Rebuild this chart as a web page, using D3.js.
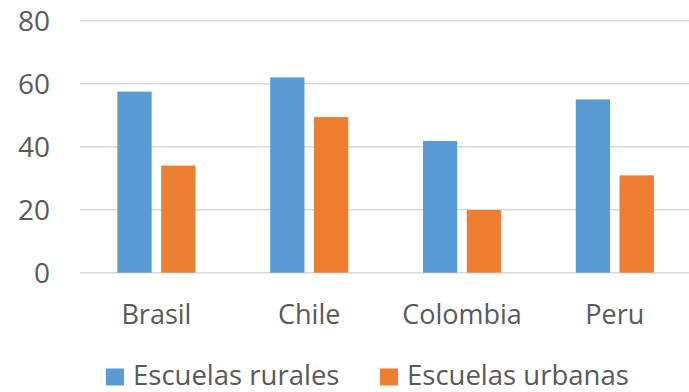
<!DOCTYPE html>
<html>
<head>
<meta charset="utf-8">
<script src="https://cdn.jsdelivr.net/npm/d3@7/dist/d3.min.js"></script>
<style>
  html, body { margin: 0; padding: 0; background: #fff; }
  svg { display: block; }
  text { font-family: "Open Sans", Lato, sans-serif; fill: #595959; }
</style>
</head>
<body>
<svg id="chart" width="689" height="392"></svg>
<script>
const categories = ["Brasil", "Chile", "Colombia", "Peru"];
const seriesNames = ["Escuelas rurales", "Escuelas urbanas"];
const rurales = [57.5, 62, 41.8, 55];
const urbanas = [34, 49.4, 19.9, 30.9];
const yTicks = [0, 20, 40, 60, 80];
const colors = ["#5B9BD5", "#ED7D31"];

const seriesValues = [rurales, urbanas];
const svg = d3.select("#chart");

const x = d3.scaleBand().domain(categories).range([80, 691.2]).padding(0);
const xInner = d3.scaleBand().domain(seriesNames).range([0, x.bandwidth()])
  .paddingInner(0.217).paddingOuter(0.853);
const y = d3.scaleLinear().domain([0, 80]).range([272.7, 20.7]);

// horizontal gridlines
svg.append("g")
  .selectAll("line")
  .data(yTicks)
  .join("line")
  .attr("x1", 80).attr("x2", 691)
  .attr("y1", d => y(d)).attr("y2", d => y(d))
  .attr("stroke", "#D9D9D9").attr("stroke-width", 1.5);

// y tick labels
svg.append("g")
  .selectAll("text")
  .data(yTicks)
  .join("text")
  .attr("x", 50).attr("y", d => y(d))
  .attr("dy", "0.36em")
  .attr("text-anchor", "end")
  .style("font-size", "28px")
  .text(d => d);

// bars
const groups = svg.append("g")
  .selectAll("g")
  .data(seriesNames)
  .join("g")
  .attr("fill", (d, i) => colors[i]);

groups.selectAll("rect")
  .data((s, si) => categories.map((c, ci) => ({ c, s, v: seriesValues[si][ci] })))
  .join("rect")
  .attr("x", d => x(d.c) + xInner(d.s))
  .attr("width", xInner.bandwidth())
  .attr("y", d => y(d.v))
  .attr("height", d => y(0) - y(d.v));

// category labels
svg.append("g")
  .selectAll("text")
  .data(categories)
  .join("text")
  .attr("x", d => x(d) + x.bandwidth() / 2)
  .attr("y", 324)
  .attr("text-anchor", "middle")
  .style("font-size", "27px")
  .text(d => d);

// legend
const legendX = [106, 380];
const legend = svg.append("g")
  .selectAll("g")
  .data(seriesNames)
  .join("g")
  .attr("transform", (d, i) => `translate(${legendX[i]},0)`);
legend.append("rect")
  .attr("x", 0).attr("y", 368.5)
  .attr("width", 18).attr("height", 17)
  .attr("fill", (d, i) => colors[i]);
legend.append("text")
  .attr("x", 27).attr("y", 385.3)
  .style("font-size", "27.5px")
  .text(d => d);
</script>
</body>
</html>
